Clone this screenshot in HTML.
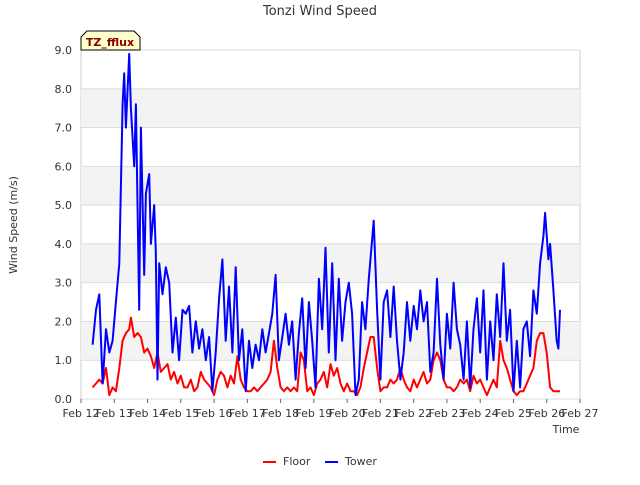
<!DOCTYPE html>
<html><head><meta charset="utf-8"><style>
body{margin:0;background:#fff;font-family:"Liberation Sans","DejaVu Sans",sans-serif}
svg text{font-family:"DejaVu Sans","Liberation Sans",sans-serif}
</style></head><body>
<svg id="c" width="640" height="480">
<text x="320" y="15" text-anchor="middle" font-size="13" fill="#333">Tonzi Wind Speed</text>
<text transform="translate(17,225) rotate(-90)" text-anchor="middle" font-size="11" fill="#333">Wind Speed (m/s)</text>
<text x="566" y="433" text-anchor="middle" font-size="11" fill="#333">Time</text>
<g id="bands"></g><g id="grid"></g><g id="ticks"></g><g id="series"></g>
<g>
<path d="M81,50 L81,37 L87,31 L134,31 L140,37 L140,50 Z" fill="#ffffcc" stroke="#000" stroke-width="1"/>
<text x="110" y="46" text-anchor="middle" font-size="11" font-weight="bold" fill="#8b0000">TZ_fflux</text>
</g>
<g>
<g><line x1="263" y1="462" x2="276" y2="462" stroke="red" stroke-width="2"/><text x="283" y="465" font-size="11" fill="#333">Floor</text></g>
<g><line x1="325" y1="462" x2="338" y2="462" stroke="blue" stroke-width="2"/><text x="345" y="465" font-size="11" fill="#333">Tower</text></g>
</g>
</svg>
<script>
const yTicks=[0,1,2,3,4,5,6,7,8,9];
const xTickLabels=["Feb 12","Feb 13","Feb 14","Feb 15","Feb 16","Feb 17","Feb 18","Feb 19","Feb 20","Feb 21","Feb 22","Feb 23","Feb 24","Feb 25","Feb 26","Feb 27"];
const towerDays=[12.35,12.45,12.55,12.65,12.75,12.85,12.95,13.05,13.15,13.25,13.3,13.35,13.45,13.5,13.6,13.65,13.75,13.8,13.9,13.95,14.05,14.1,14.2,14.25,14.3,14.35,14.45,14.55,14.65,14.75,14.85,14.95,15.05,15.15,15.25,15.35,15.45,15.55,15.65,15.75,15.85,15.95,16.05,16.15,16.25,16.35,16.45,16.55,16.65,16.75,16.85,16.95,17.05,17.15,17.25,17.35,17.45,17.55,17.65,17.75,17.85,17.95,18.05,18.15,18.25,18.35,18.45,18.55,18.65,18.75,18.85,18.95,19.05,19.15,19.25,19.35,19.45,19.55,19.65,19.75,19.85,19.95,20.05,20.15,20.25,20.35,20.45,20.55,20.65,20.75,20.8,20.9,21.0,21.1,21.2,21.3,21.4,21.5,21.6,21.7,21.8,21.9,22.0,22.1,22.2,22.3,22.4,22.5,22.6,22.7,22.8,22.9,23.0,23.1,23.2,23.3,23.4,23.5,23.6,23.7,23.8,23.9,24.0,24.1,24.2,24.3,24.4,24.5,24.6,24.7,24.8,24.9,25.0,25.1,25.2,25.3,25.4,25.5,25.6,25.7,25.8,25.9,25.95,26.05,26.1,26.2,26.3,26.35,26.4];
const towerValues=[1.4,2.3,2.7,0.4,1.8,1.2,1.5,2.5,3.5,7.6,8.4,7.0,8.9,7.5,6.0,7.6,2.3,7.0,3.2,5.3,5.8,4.0,5.0,3.8,0.5,3.5,2.7,3.4,3.0,1.2,2.1,1.0,2.3,2.2,2.4,1.2,2.0,1.3,1.8,1.0,1.6,0.2,1.2,2.6,3.6,1.5,2.9,1.2,3.4,1.0,1.8,0.2,1.5,0.8,1.4,1.0,1.8,1.2,1.7,2.2,3.2,1.0,1.6,2.2,1.4,2.0,0.5,1.7,2.6,0.8,2.5,1.5,0.3,3.1,1.8,3.9,1.2,3.5,1.0,3.1,1.5,2.5,3.0,2.2,0.1,0.5,2.5,1.8,3.1,4.1,4.6,2.3,0.5,2.5,2.8,1.6,2.9,1.5,0.5,1.2,2.5,1.5,2.4,1.8,2.8,2.0,2.5,0.7,1.2,3.1,1.4,0.5,2.2,1.3,3.0,1.8,1.4,0.5,2.0,0.3,1.8,2.6,1.2,2.8,0.5,2.0,1.0,2.7,1.6,3.5,1.5,2.3,0.2,1.5,0.3,1.8,2.0,1.1,2.8,2.2,3.5,4.2,4.8,3.6,4.0,2.8,1.5,1.3,2.3];
const floorDays=[12.35,12.45,12.55,12.65,12.75,12.85,12.95,13.05,13.15,13.25,13.35,13.45,13.5,13.6,13.7,13.8,13.9,14.0,14.1,14.2,14.3,14.4,14.5,14.6,14.7,14.8,14.9,15.0,15.1,15.2,15.3,15.4,15.5,15.6,15.7,15.8,15.9,16.0,16.1,16.2,16.3,16.4,16.5,16.6,16.7,16.8,16.9,17.0,17.1,17.2,17.3,17.4,17.5,17.6,17.7,17.8,17.9,18.0,18.1,18.2,18.3,18.4,18.5,18.6,18.7,18.8,18.9,19.0,19.1,19.2,19.3,19.4,19.5,19.6,19.7,19.8,19.9,20.0,20.1,20.2,20.3,20.4,20.5,20.6,20.7,20.8,20.9,21.0,21.1,21.2,21.3,21.4,21.5,21.6,21.7,21.8,21.9,22.0,22.1,22.2,22.3,22.4,22.5,22.6,22.7,22.8,22.9,23.0,23.1,23.2,23.3,23.4,23.5,23.6,23.7,23.8,23.9,24.0,24.1,24.2,24.3,24.4,24.5,24.6,24.7,24.8,24.9,25.0,25.1,25.2,25.3,25.4,25.5,25.6,25.7,25.8,25.9,26.0,26.1,26.2,26.3,26.4];
const floorValues=[0.3,0.4,0.5,0.4,0.8,0.1,0.3,0.2,0.8,1.5,1.7,1.8,2.1,1.6,1.7,1.6,1.2,1.3,1.1,0.8,1.2,0.7,0.8,0.9,0.5,0.7,0.4,0.6,0.3,0.3,0.5,0.2,0.3,0.7,0.5,0.4,0.3,0.1,0.5,0.7,0.6,0.3,0.6,0.4,1.1,0.5,0.3,0.2,0.2,0.3,0.2,0.3,0.4,0.5,0.7,1.5,0.8,0.3,0.2,0.3,0.2,0.3,0.2,1.2,1.0,0.2,0.3,0.1,0.4,0.5,0.7,0.3,0.9,0.6,0.8,0.4,0.2,0.4,0.2,0.2,0.1,0.3,0.8,1.2,1.6,1.6,0.8,0.2,0.3,0.3,0.5,0.4,0.5,0.8,0.5,0.3,0.2,0.5,0.3,0.5,0.7,0.4,0.5,1.0,1.2,1.0,0.5,0.3,0.3,0.2,0.3,0.5,0.4,0.5,0.2,0.6,0.4,0.5,0.3,0.1,0.3,0.5,0.3,1.5,1.0,0.8,0.5,0.2,0.1,0.2,0.2,0.4,0.6,0.8,1.5,1.7,1.7,1.2,0.3,0.2,0.2,0.2];
const X0=81,X1=580,Y0=399,Y1=50,DMIN=12,DMAX=27,VMAX=9;
const xs=d=>X0+(d-DMIN)/(DMAX-DMIN)*(X1-X0);
const ys=v=>Y0-v/VMAX*(Y0-Y1);
const NS="http://www.w3.org/2000/svg";
function mk(tag,attrs,parent){const e=document.createElementNS(NS,tag);for(const k in attrs)e.setAttribute(k,attrs[k]);parent.appendChild(e);return e;}
const bands=document.getElementById('bands'),grid=document.getElementById('grid'),ticks=document.getElementById('ticks'),series=document.getElementById('series');
const bg=mk('rect',{x:X0,y:Y1,width:X1-X0,height:Y0-Y1,fill:'#fff',stroke:'#ccc'},bands);


for(let i=1;i<yTicks.length-1;i+=2){
 const r=mk('rect',{x:X0,y:ys(yTicks[i+1]),width:X1-X0,height:ys(yTicks[i])-ys(yTicks[i+1]),fill:'#f3f3f3'},bands);
 
 
}
yTicks.forEach(v=>{
 const l=mk('line',{x1:X0,x2:X1,y1:ys(v),y2:ys(v),stroke:'#ddd'},grid);
 
 
 const t=mk('text',{x:X0-9,y:ys(v)+4,'text-anchor':'end','font-size':'11',fill:'#333'},ticks);
 t.textContent=v.toFixed(1);
 
 
});
xTickLabels.forEach((s,i)=>{
 const x=xs(DMIN+i);
 const l=mk('line',{x1:x,x2:x,y1:Y0,y2:Y0+4,stroke:'#666'},ticks);
 
 
 const t=mk('text',{x:x,y:Y0+18,'text-anchor':'middle','font-size':'11',fill:'#333'},ticks);
 t.textContent=s;
 
 
});
function line(days,vals,color,name){
 const p=mk('polyline',{points:days.map((d,i)=>xs(d).toFixed(1)+','+ys(vals[i]).toFixed(1)).join(' '),fill:'none',stroke:color,'stroke-width':'2','stroke-linejoin':'round'},series);
 
 
}
line(floorDays,floorValues,'red','floor-line');
line(towerDays,towerValues,'blue','tower-line');
</script>
</body></html>
